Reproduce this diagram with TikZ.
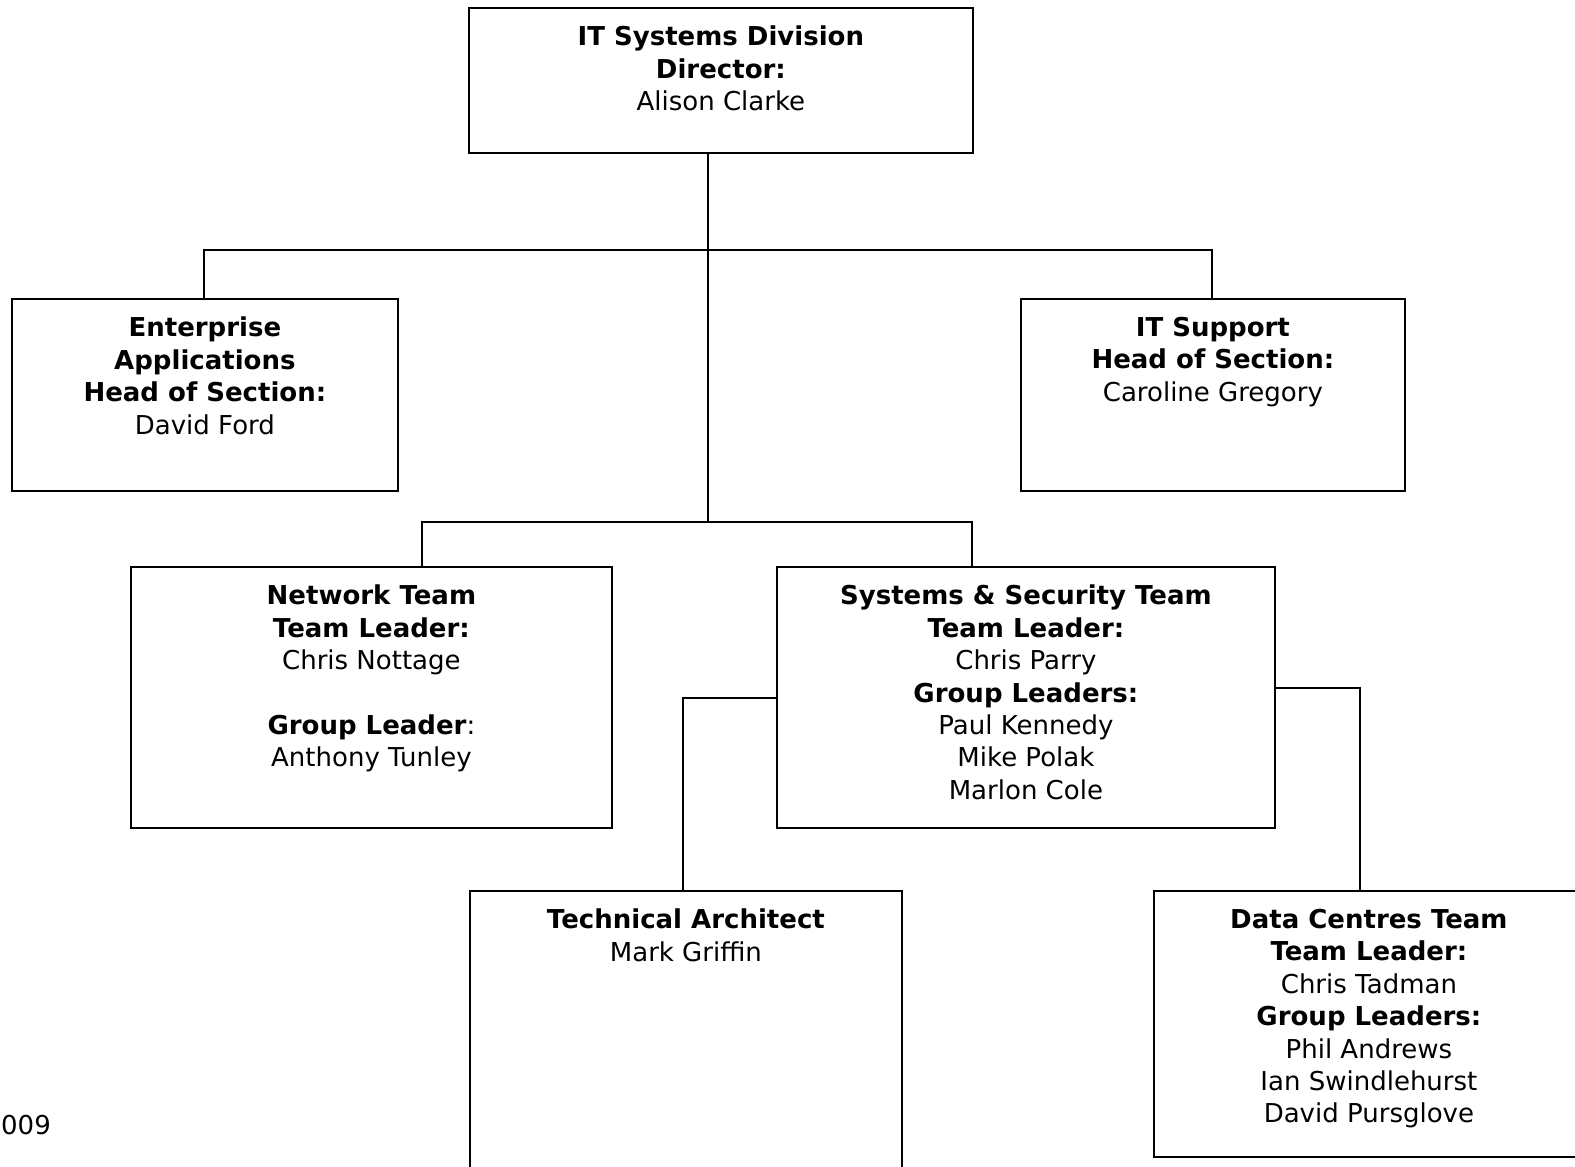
\documentclass[tikz,border=0pt]{standalone}
\usepackage{fontspec}
\setmainfont{DejaVu Sans}
\begin{document}
\begin{tikzpicture}[x=1pt,y=-1pt,
  box/.style={draw=black,line width=1.8pt,rectangle,inner sep=0pt,anchor=north west},
  txt/.style={anchor=north,align=center,inner sep=0pt,font=\fontsize{26}{32.4}\selectfont},
  conn/.style={draw=black,line width=1.8pt}]
\useasboundingbox (0,0) rectangle (1575,1167);
% boxes
\node[box,minimum width=504pt,minimum height=145pt] (top) at (468,7) {};
\node[box,minimum width=386pt,minimum height=192pt] (ea) at (11,298) {};
\node[box,minimum width=384pt,minimum height=192pt] (its) at (1020,298) {};
\node[box,minimum width=481pt,minimum height=261pt] (net) at (130,566) {};
\node[box,minimum width=498pt,minimum height=261pt] (sys) at (776,566) {};
\node[box,minimum width=432pt,minimum height=320pt] (tech) at (469,890) {};
\node[box,minimum width=430pt,minimum height=266pt] (dc) at (1153,890) {};
% texts
\node[txt] (ttop) at ([yshift=-19pt]top.north) {\textbf{IT Systems Division}\\\textbf{Director:}\\Alison Clarke};
\node[txt] (tea) at ([yshift=-19pt]ea.north) {\textbf{Enterprise}\\\textbf{Applications}\\\textbf{Head of Section:}\\David Ford};
\node[txt] (tits) at ([yshift=-19pt]its.north) {\textbf{IT Support}\\\textbf{Head of Section:}\\Caroline Gregory};
\node[txt] (tnet) at ([yshift=-19pt]net.north) {\textbf{Network Team}\\\textbf{Team Leader:}\\Chris Nottage\\[32.4pt]\textbf{Group Leader}:\\Anthony Tunley};
\node[txt] (tsys) at ([yshift=-19pt]sys.north) {\textbf{Systems \& Security Team}\\\textbf{Team Leader:}\\Chris Parry\\\textbf{Group Leaders:}\\Paul Kennedy\\Mike Polak\\Marlon Cole};
\node[txt] (ttech) at ([yshift=-19pt]tech.north) {\textbf{Technical Architect}\\Mark Griffin};
\node[txt] (tdc) at ([yshift=-19pt]dc.north) {\textbf{Data Centres Team}\\\textbf{Team Leader:}\\Chris Tadman\\\textbf{Group Leaders:}\\Phil Andrews\\Ian Swindlehurst\\David Pursglove};
\node[anchor=base west,inner sep=0pt,font=\fontsize{26}{32.4}\selectfont] (date) at (1,1134) {009};
% connector coordinates
\coordinate (j1) at (708,250);
\coordinate (j2) at (708,522);
\coordinate (h1) at (204,250);
\coordinate (h2) at (1212,250);
\coordinate (n1) at (422,522);
\coordinate (s1) at (972,522);
\coordinate (l1) at (683,698);
\coordinate (r1) at (1360,688);
% connectors
\draw[conn] (top.south -| j1) -- (j2);
\draw[conn] (ea.north -| h1) -- (h1) -- (h2) -- (its.north -| h2);
\draw[conn] (net.north -| n1) -- (n1) -- (s1) -- (sys.north -| s1);
\draw[conn] (sys.west |- l1) -- (l1) -- (tech.north -| l1);
\draw[conn] (sys.east |- r1) -- (r1) -- (dc.north -| r1);
\end{tikzpicture}
\end{document}
